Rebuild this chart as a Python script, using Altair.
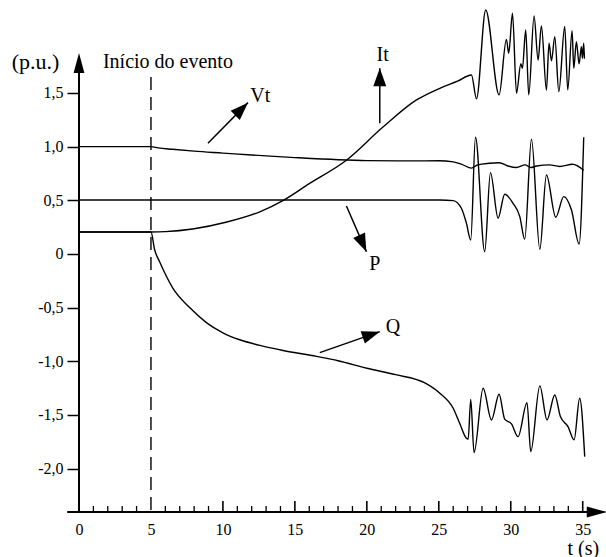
import altair as alt
import pandas as pd

# ---------------- data ----------------
vt_t = [0, 5, 5.5, 6.5, 8, 10, 12, 15, 18, 20, 23, 25, 26, 26.6, 27.27, 27.7, 28.5, 29.2,
        29.8, 30.4, 31.0, 31.4, 31.8, 32.7, 33.4, 34.3, 35.07]
vt_v = [1.0, 1.0, 0.988, 0.975, 0.958, 0.94, 0.922, 0.898, 0.878, 0.87, 0.867, 0.868, 0.858,
        0.835, 0.80, 0.83, 0.845, 0.85, 0.82, 0.805, 0.83, 0.805, 0.82, 0.83, 0.815, 0.836, 0.78]

it_t = [0, 5, 6, 7.9, 10.2, 12.6, 14.2, 16.0, 18.6, 21.1, 23.45, 25.07, 26.3, 27.27, 27.62,
        28.26, 29.19, 29.70, 29.86, 30.12, 30.40, 30.70, 30.81, 31.04, 31.25, 31.62, 31.90,
        32.13, 32.48, 32.66, 32.83, 33.06, 33.34, 33.75, 33.96, 34.26, 34.38, 34.56, 34.75,
        34.91, 34.98, 35.07, 35.12]
it_v = [0.205, 0.205, 0.208, 0.232, 0.295, 0.395, 0.50, 0.655, 0.876, 1.18, 1.435, 1.544,
        1.61, 1.668, 1.445, 2.274, 1.482, 2.0, 1.87, 2.243, 1.497, 1.772, 1.73, 2.088, 1.482,
        2.218, 1.808, 2.125, 1.528, 1.963, 1.80, 2.025, 1.513, 2.119, 1.528, 2.081, 1.73,
        1.979, 1.771, 1.932, 1.824, 1.963, 1.82]

p_t = [0, 25.07, 26.0, 26.57, 26.92, 27.22, 27.55, 28.19, 28.59, 29.12, 29.58, 30.16, 30.63,
       30.97, 31.44, 32.02, 32.48, 33.13, 33.68, 34.22, 34.75, 35.07]
p_v = [0.503, 0.503, 0.497, 0.426, 0.286, 0.13, 1.087, 0.021, 0.758, 0.333, 0.556, 0.472,
       0.348, 0.137, 1.069, 0.044, 0.736, 0.342, 0.534, 0.41, 0.093, 1.087]

q_t = [0, 5, 5.26, 5.61, 6.53, 7.69, 8.85, 10.0, 11.17, 12.5, 14.18, 16.5, 18.0, 20.0, 22.0,
       24.0, 25.07, 26.0, 26.45, 26.92, 27.04, 27.22, 27.45, 28.08, 28.66, 29.19, 29.58,
       30.05, 30.51, 31.13, 31.39, 32.02, 32.52, 33.06, 33.45, 33.98, 34.40, 34.79, 35.14]
q_v = [0.205, 0.205, 0.037, -0.075, -0.32, -0.50, -0.64, -0.735, -0.80, -0.85, -0.90, -0.955,
       -0.995, -1.065, -1.125, -1.20, -1.298, -1.438, -1.578, -1.718, -1.727, -1.355, -1.852,
       -1.252, -1.547, -1.308, -1.54, -1.584, -1.703, -1.386, -1.842, -1.23, -1.547, -1.314,
       -1.516, -1.609, -1.733, -1.345, -1.889]

y_tick_values = [-2.0, -1.5, -1.0, -0.5, 0, 0.5, 1.0, 1.5]
x_label_values = [0, 5, 10, 15, 20, 25, 30, 35]
x_minor_ticks = [t for t in range(1, 36) if t % 5 != 0]
x_major_ticks = [10, 15, 20, 25, 30, 35]

event_time = 5

# annotation arrows: label, start (t, v), tip (t, v)
arrow_names = ["Vt", "It", "P", "Q"]
arrow_t0 = [8.96, 20.9, 18.58, 16.73]
arrow_v0 = [1.032, 1.218, 0.447, -0.92]
arrow_t1 = [11.74, 20.9, 19.97, 20.9]
arrow_v1 = [1.41, 1.731, 0.021, -0.724]
arrow_angle = [45, 0, 156, 71]
label_t = [12.6, 21.1, 20.55, 21.82]
label_v = [1.472, 1.855, -0.093, -0.683]

# ---------------- layout ----------------
FONT = "Liberation Serif, Times New Roman, serif"
W, H = 524, 507
X_DOM = [0, 36.41]
Y_DOM = [-2.405, 2.32]
xs = alt.Scale(domain=X_DOM, nice=False, zero=False)
ys = alt.Scale(domain=Y_DOM, nice=False, zero=False)

frames = []
for name, ts, vs in [("Vt", vt_t, vt_v), ("It", it_t, it_v), ("P", p_t, p_v), ("Q", q_t, q_v)]:
    frames.append(pd.DataFrame({"t": ts, "v": vs, "serie": name}))
curves_df = pd.concat(frames, ignore_index=True)

x_axis = alt.Axis(values=x_label_values, domain=False, ticks=False, tickSize=0, grid=False,
                  labelPadding=9, labelFont=FONT, labelFontSize=16, labelColor="black",
                  labelFlush=False, labelOverlap=False,
                  title="t (s)", titleFont=FONT, titleFontSize=20, titleFontWeight="normal",
                  titleColor="black", titleX=488, titleY=36, titleAlign="left",
                  titleBaseline="middle")
y_axis = alt.Axis(values=y_tick_values, domain=False, tickSize=12, tickWidth=1.5,
                  tickColor="black", grid=False, labelPadding=4, labelFont=FONT,
                  labelFontSize=16, labelColor="black", labelFlush=False, labelOverlap=False,
                  labelExpr="datum.value == 0 ? '0' : (datum.value < 0 ? '-' : '') + replace(format(abs(datum.value), '.1f'), '.', ',')",
                  title="(p.u.)", titleFont=FONT, titleFontSize=22, titleFontWeight="normal",
                  titleColor="black", titleAngle=0, titleX=-44, titleY=56, titleAlign="center",
                  titleBaseline="middle")


def X(field):
    return alt.X(field, scale=xs, axis=x_axis, title="t (s)")


def Y(field):
    return alt.Y(field, scale=ys, axis=y_axis, title="(p.u.)")


curves = alt.Chart(curves_df).mark_line(interpolate="monotone", color="black",
                                         strokeWidth=1.4).encode(
    x=X("t:Q"), y=Y("v:Q"), detail="serie:N")

# axes lines
axis_df = pd.DataFrame({"t0": [0, X_DOM[0] - 0.82], "v0": [Y_DOM[0], Y_DOM[0]],
                        "t1": [0, 36.5], "v1": [1.80, Y_DOM[0]]})
axis_lines = alt.Chart(axis_df).mark_rule(color="black", strokeWidth=2).encode(
    x=X("t0:Q"), y=Y("v0:Q"), x2="t1:Q", y2="v1:Q")

axis_head_df = pd.DataFrame({"t": [0, 36.67], "v": [1.873, Y_DOM[0]], "a": [0, 90]})
AXIS_HEAD = "M0,0L-0.27,1L0.27,1Z"
axis_heads = alt.Chart(axis_head_df).mark_point(shape=AXIS_HEAD, filled=True, size=1600,
                                                color="black", opacity=1,
                                                strokeWidth=0).encode(
    x=X("t:Q"), y=Y("v:Q"), angle=alt.Angle("a:Q", scale=None))

minor = alt.Chart(pd.DataFrame({"t": x_minor_ticks})).mark_rule(color="black",
                                                                strokeWidth=1.3).encode(
    x=X("t:Q"), y=alt.value(H), y2=alt.value(H - 6))
major = alt.Chart(pd.DataFrame({"t": x_major_ticks})).mark_rule(color="black",
                                                                strokeWidth=1.6).encode(
    x=X("t:Q"), y=alt.value(H), y2=alt.value(H - 11))

# event line
event_df = pd.DataFrame({"t": [event_time], "v0": [Y_DOM[0]], "v1": [1.65]})
event_line = alt.Chart(event_df).mark_rule(color="black", strokeWidth=1.4,
                                           strokeDash=[13, 7]).encode(
    x=X("t:Q"), y=Y("v1:Q"), y2="v0:Q")
event_text = alt.Chart(pd.DataFrame({"t": [6.18], "v": [1.79],
                                     "txt": ["Início do evento"]})).mark_text(
    font=FONT, fontSize=20, color="black", align="center", baseline="middle").encode(
    x=X("t:Q"), y=Y("v:Q"), text="txt:N")

# annotation arrows
arr_df = pd.DataFrame({"name": arrow_names, "t0": arrow_t0, "v0": arrow_v0,
                       "t1": arrow_t1, "v1": arrow_v1, "a": arrow_angle,
                       "lt": label_t, "lv": label_v})
arr_lines = alt.Chart(arr_df).mark_rule(color="black", strokeWidth=1.5).encode(
    x=X("t0:Q"), y=Y("v0:Q"), x2="t1:Q", y2="v1:Q")
HEAD = "M0,0L-0.36,1L0.36,1Z"
arr_heads = alt.Chart(arr_df).mark_point(shape=HEAD, filled=True, size=1296, color="black",
                                         opacity=1, strokeWidth=0).encode(
    x=X("t1:Q"), y=Y("v1:Q"), angle=alt.Angle("a:Q", scale=None))
arr_labels = alt.Chart(arr_df).mark_text(font=FONT, fontSize=20, color="black",
                                         align="center", baseline="middle").encode(
    x=X("lt:Q"), y=Y("lv:Q"), text="name:N")

chart = alt.layer(
    curves, event_line, axis_lines, axis_heads, minor, major, event_text,
    arr_lines, arr_heads, arr_labels
).properties(
    width=W, height=H,
    padding={"left": 79, "top": 5, "right": 3, "bottom": 45},
    autosize=alt.AutoSizeParams(type="none"),
    background="white",
).configure_view(stroke=None)

chart.save("out.html", embed_options={"renderer": "svg", "actions": False})
